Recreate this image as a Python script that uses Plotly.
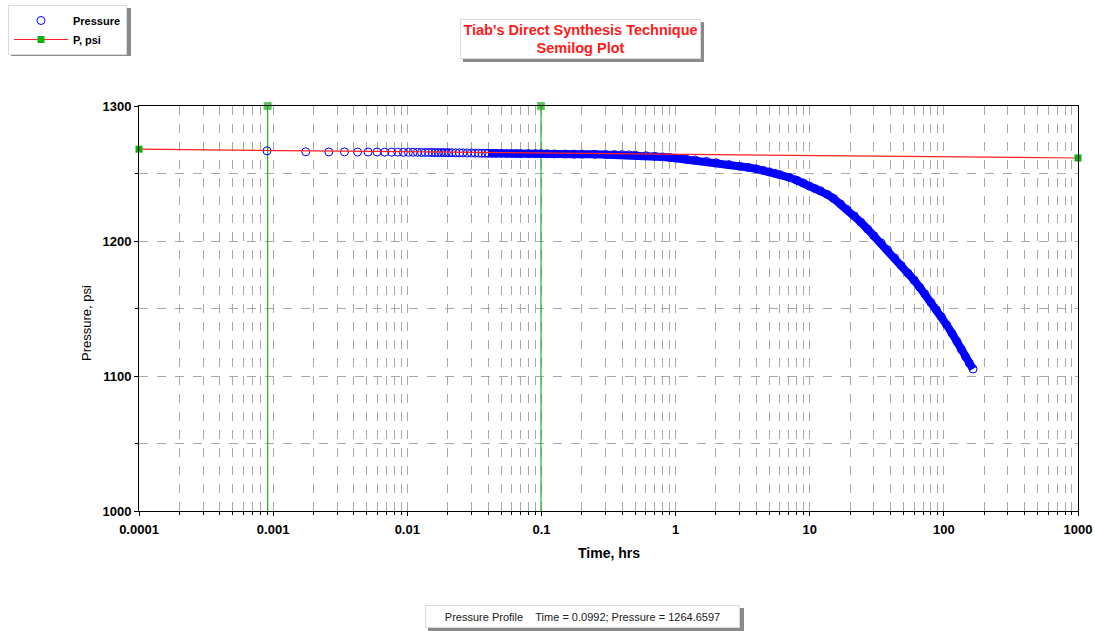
import plotly.graph_objects as go

# ---------------- data ----------------
time_hr = [0.0009, 0.00175, 0.0026, 0.0034, 0.00426, 0.0051, 0.00595, 0.0068, 0.00765, 0.0085,
           0.00935, 0.0102, 0.01105, 0.0119, 0.01275, 0.0136, 0.01445, 0.0153, 0.01615, 0.017,
           0.01785, 0.0187, 0.01955, 0.0204, 0.0215, 0.023, 0.0245, 0.026, 0.028, 0.03,
           0.032, 0.034, 0.036, 0.038, 0.04, 0.043, 0.046, 0.05, 0.055, 0.06,
           0.065, 0.07, 0.08, 0.09, 0.0992, 0.11, 0.125, 0.15, 0.175, 0.2,
           0.25, 0.3, 0.35, 0.4, 0.45, 0.5, 0.6, 0.7, 0.8, 0.9,
           1.0, 1.2, 1.4, 1.7, 2.0, 2.5, 3.0, 3.5, 4.0, 4.5,
           5.0, 5.5, 6.0, 7.0, 8.0, 9.0, 10, 11, 12, 13.5,
           15, 17, 19, 21.5, 24, 27, 30, 34, 38, 43,
           48, 54, 60, 66, 72, 80, 88, 96, 105, 115,
           125, 135, 145, 155, 165]
pressure_psi = [1266.8, 1266.1, 1266.0, 1266.0, 1265.9, 1265.9, 1265.9, 1265.8, 1265.8, 1265.8,
                1265.7, 1265.7, 1265.7, 1265.7, 1265.6, 1265.6, 1265.6, 1265.6, 1265.5, 1265.5,
                1265.5, 1265.5, 1265.4, 1265.4, 1265.4, 1265.3, 1265.3, 1265.3, 1265.2, 1265.2,
                1265.1, 1265.1, 1265.0, 1265.0, 1265.0, 1264.9, 1264.9, 1264.9, 1264.8, 1264.8,
                1264.8, 1264.7, 1264.7, 1264.7, 1264.66, 1264.6, 1264.5, 1264.4, 1264.3, 1264.3,
                1264.2, 1264.1, 1264.1, 1264.0, 1263.8, 1263.6, 1263.2, 1262.8, 1262.3, 1261.9,
                1261.4, 1260.6, 1260.0, 1259.0, 1258.0, 1256.6, 1255.4, 1254.4, 1253.4, 1252.3,
                1251.2, 1250.2, 1249.2, 1247.2, 1245.0, 1242.8, 1240.6, 1238.8, 1237.3, 1234.5,
                1231.6, 1227.4, 1223.4, 1218.6, 1214.0, 1208.8, 1204.0, 1198.6, 1193.5, 1187.4,
                1182.0, 1176.2, 1171.0, 1165.8, 1161.0, 1154.6, 1149.0, 1143.8, 1137.8, 1131.6,
                1125.6, 1119.8, 1114.2, 1109.4, 1105.2]

p_line_time = [0.0001, 1000]
p_line_psi = [1268.0, 1261.5]

cursor_times = [0.00091, 0.0992]
y_range = [1000, 1300]
x_tick_vals = [0.0001, 0.001, 0.01, 0.1, 1, 10, 100, 1000]
x_tick_text = ["0.0001", "0.001", "0.01", "0.1", "1", "10", "100", "1000"]
y_tick_vals = [1000, 1100, 1200, 1300]

title_text = "Tiab's Direct Synthesis Technique<br>Semilog Plot"
status_text = "Pressure Profile\u00a0\u00a0\u00a0\u00a0Time = 0.0992; Pressure = 1264.6597"

# ---------------- layout helpers (pixel -> paper) ----------------
W, H = 1095, 631
L, R, T, B = 139, 1078, 106, 511
def px(x):
    return (x - L) / (R - L)
def py(y):
    return (B - y) / (B - T)

FONT = "Arial, Liberation Sans, sans-serif"
fig = go.Figure()

# cursor lines (green)
for ct in cursor_times:
    fig.add_trace(go.Scatter(x=[ct, ct], y=y_range, mode="lines+markers",
                             line=dict(color="#1fb41f", width=1.2),
                             marker=dict(symbol="square", size=[0, 7], color="#11b011"),
                             showlegend=False, hoverinfo="skip", cliponaxis=False))

# dense band behind the circles
band_t = [t for t in time_hr if t >= 0.04]
band_p = [p for t, p in zip(time_hr, pressure_psi) if t >= 0.04]
fig.add_trace(go.Scatter(x=band_t, y=band_p, mode="lines",
                         line=dict(color="#0000ff", width=8),
                         showlegend=False, hoverinfo="skip"))

fig.add_trace(go.Scatter(x=time_hr, y=pressure_psi, mode="markers", name="Pressure",
                         marker=dict(symbol="circle-open", size=8, color="#0000ff",
                                     line=dict(width=1, color="#0000ff"))))

fig.add_trace(go.Scatter(x=p_line_time, y=p_line_psi, mode="lines+markers", name="P, psi",
                         line=dict(color="#ff2020", width=1.2),
                         marker=dict(symbol="square", size=7, color="#11b011"),
                         cliponaxis=False))

grid_col = "#a8a8a8"
fig.update_xaxes(type="log", range=[-4, 3], tickvals=x_tick_vals, ticktext=x_tick_text,
                 showline=True, linecolor="black", linewidth=1, mirror=True,
                 ticks="outside", ticklen=4, tickcolor="black",
                 showgrid=True, gridcolor=grid_col, griddash="dash", gridwidth=1,
                 minor=dict(dtick="D1", ticks="outside", ticklen=3, tickcolor="black",
                            showgrid=True, gridcolor=grid_col, griddash="dash"),
                 tickfont=dict(family=FONT, size=13, color="black", weight="bold"),
                 ticklabelstandoff=2, zeroline=False, automargin=False)
fig.update_yaxes(range=y_range, tickvals=y_tick_vals,
                 showline=True, linecolor="black", linewidth=1, mirror=True,
                 ticks="outside", ticklen=4, tickcolor="black",
                 showgrid=True, gridcolor=grid_col, griddash="dash", gridwidth=1,
                 minor=dict(dtick=50, ticks="outside", ticklen=3, tickcolor="black",
                            showgrid=True, gridcolor=grid_col, griddash="dash"),
                 tickfont=dict(family=FONT, size=13, color="black", weight="bold"),
                 zeroline=False, automargin=False)

# legend box estimate (px) for its shadow
LEG_X, LEG_Y, LEG_W, LEG_H = 8, 5, 120, 48

shapes = [
    # title shadow
    dict(type="rect", xref="paper", yref="paper", x0=px(463), x1=px(704), y0=py(62), y1=py(22),
         fillcolor="#8a8a8a", line=dict(width=0)),
    # legend shadow
    dict(type="rect", xref="paper", yref="paper", x0=px(LEG_X + 3), x1=px(LEG_X + LEG_W + 3),
         y0=py(LEG_Y + LEG_H + 3), y1=py(LEG_Y + 3),
         fillcolor="#8a8a8a", line=dict(width=0)),
    # status shadow
    dict(type="rect", xref="paper", yref="paper", x0=px(428), x1=px(744), y0=py(631), y1=py(608),
         fillcolor="#8a8a8a", line=dict(width=0)),
]

annotations = [
    dict(text=title_text, xref="paper", yref="paper", x=px(580.5), y=py(39.5),
         xanchor="center", yanchor="middle", showarrow=False,
         font=dict(family=FONT, size=14.5, color="#ff1a1a", weight="bold"),
         bgcolor="white", bordercolor="#dcdcdc", borderwidth=1, borderpad=2,
         width=235, height=34, align="center"),
    dict(text=status_text, xref="paper", yref="paper", x=px(582.5), y=py(616.5),
         xanchor="center", yanchor="middle", showarrow=False,
         font=dict(family=FONT, size=11, color="#202020"),
         bgcolor="white", bordercolor="#dcdcdc", borderwidth=1, borderpad=2,
         width=309, height=17, align="center"),
    dict(text="Time, hrs", xref="paper", yref="paper", x=px(609), y=py(553),
         xanchor="center", yanchor="middle", showarrow=False,
         font=dict(family=FONT, size=14, color="black", weight="bold")),
    dict(text="Pressure, psi", xref="paper", yref="paper", x=px(86), y=py(323),
         xanchor="center", yanchor="middle", showarrow=False, textangle=-90,
         font=dict(family=FONT, size=13, color="black")),
]

fig.update_layout(
    width=W, height=H, autosize=False,
    margin=dict(l=L, r=W - R, t=T, b=H - B, autoexpand=False),
    paper_bgcolor="white", plot_bgcolor="white",
    showlegend=True,
    legend=dict(xref="container", yref="container", x=LEG_X / W, y=1 - LEG_Y / H,
                xanchor="left", yanchor="top",
                bgcolor="white", bordercolor="#dcdcdc", borderwidth=1,
                font=dict(family=FONT, size=11, color="black", weight="bold"),
                itemwidth=54, tracegroupgap=0),
    shapes=shapes, annotations=annotations,
)

fig.write_html("out.html", config={"displayModeBar": False},
               post_script="document.body.style.margin='0';document.body.style.overflow='hidden';")
